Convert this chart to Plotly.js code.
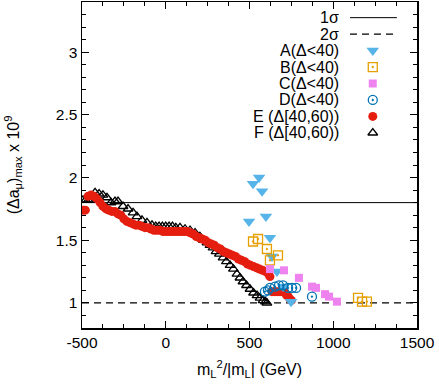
<!DOCTYPE html>
<html>
<head>
<meta charset="utf-8">
<script src="https://cdn.plot.ly/plotly-3.0.1.min.js"></script>
<style>
  html, body { margin: 0; padding: 0; background: #fff; }
  #plot { width: 439px; height: 387px; }
</style>
</head>
<body>
<div id="plot"></div>
<script>
// values
var sigma1 = 1.80;
var sigma2 = 1.00;

var xTickVals = [-500, 0, 500, 1000, 1500];
var xTickText = ['-500', '0', '500', '1000', '1500'];

var aX = [521, 557, 575, 497, 598, 622, 634, 664, 700, 748];
var aY = [1.95, 2.00, 1.89, 1.65, 1.69, 1.52, 1.37, 1.25, 1.13, 1.01];

var bX = [521, 551, 604, 622, 670, 1148, 1172, 1201];
var bY = [1.49, 1.51, 1.43, 1.34, 1.38, 1.04, 1.01, 1.01];

var cX = [622, 706, 795, 873, 897, 951, 975, 1022];
var cY = [1.27, 1.26, 1.20, 1.13, 1.12, 1.07, 1.05, 1.01];

var dX = [592, 610, 622, 652, 676, 700, 730, 754, 778, 873];
var dY = [1.09, 1.10, 1.12, 1.13, 1.14, 1.14, 1.12, 1.12, 1.12, 1.05];

var eX = [-494, -480, -464, -446, -428, -410, -392, -375, -357, -340, -322, -304,
  -286, -268, -250, -232, -214, -196, -178, -160, -142, -124, -106, -88, -70, -52,
  -34, -16, 2, 20, 38, 56, 74, 92, 110, 128, 146, 164, 182, 200, 218, 236, 254,
  272, 290, 308, 326, 344, 362, 380, 398, 416, 434, 452, 470, 488, 506, 524, 542,
  560, 578, 596, 614, 622,
  634, 652, 668, 682, 698, 712, 722, 732, 742, 750];
var eY = [1.74, 1.74, 1.85, 1.86, 1.85, 1.83, 1.80, 1.77, 1.75, 1.74, 1.73, 1.73,
  1.71, 1.70, 1.67, 1.65, 1.64, 1.63, 1.62, 1.62, 1.61, 1.60, 1.60, 1.59, 1.58, 1.58,
  1.58, 1.57, 1.57, 1.57, 1.57, 1.57, 1.57, 1.57, 1.57, 1.57, 1.56, 1.55, 1.53,
  1.52, 1.51, 1.50, 1.48, 1.47, 1.46, 1.44, 1.43, 1.41, 1.40, 1.39, 1.38, 1.37,
  1.35, 1.34, 1.33, 1.31, 1.30, 1.29, 1.28, 1.27, 1.26, 1.25, 1.23, 1.21,
  1.09, 1.09, 1.09, 1.09, 1.09, 1.08, 1.06, 1.05, 1.03, 1.02];

var fX = [-494, -478, -462, -446, -422, -398, -375, -351, -327, -303, -285, -255,
  -225, -195, -172, -142, -112, -82, -60, -40, -20, 0, 20, 40, 60, 85, 115, 145,
  175, 204, 225, 246, 264, 282, 300, 320, 342, 362, 384, 404, 425, 443, 461, 482,
  503, 524, 545, 563, 581, 595, 604];
var fY = [1.82, 1.82, 1.82, 1.82, 1.88, 1.87, 1.86, 1.84, 1.80, 1.81, 1.81, 1.77,
  1.75, 1.72, 1.69, 1.66, 1.64, 1.62, 1.61, 1.61, 1.61, 1.61, 1.61, 1.61, 1.60,
  1.60, 1.59, 1.58, 1.56, 1.53, 1.50, 1.48, 1.46, 1.44, 1.41, 1.39, 1.36, 1.33,
  1.30, 1.27, 1.23, 1.20, 1.17, 1.14, 1.11, 1.08, 1.06, 1.04, 1.02, 1.01, 1.00];

var xRange = [-500, 1500];
var yRange = [0.8, 3.4];

var labels = ['1\u03c3', '2\u03c3', 'A(\u0394<40)', 'B(\u0394<40)', 'C(\u0394<40)',
  'D(\u0394<40)', 'E (\u0394[40,60))', 'F (\u0394[40,60))'];

var FONT = 'Liberation Sans, Arial, Helvetica, sans-serif';

// marker styles per series
var styles = [
  {symbol: 'triangle-down', size: 11, color: '#56B4E9', line: {width: 0}},
  {symbol: 'square-open-dot', size: 9, color: '#E69F00', line: {width: 1.3}},
  {symbol: 'square', size: 8, color: '#EE82EE', line: {width: 0}},
  {symbol: 'circle-open-dot', size: 9, color: '#0072B2', line: {width: 1.3}},
  {symbol: 'circle', size: 9, color: '#E51E10', line: {width: 0}},
  {symbol: 'triangle-up-open', size: 8.5, color: '#000000', line: {width: 1.3}}
];

var series = [[aX, aY], [bX, bY], [cX, cY], [dX, dY], [eX, eY], [fX, fY]];
var order = [5, 4, 0, 1, 2, 3]; // drawing order

var data = [
  {x: xRange, y: [sigma1, sigma1], mode: 'lines', line: {color: '#000', width: 1}, hoverinfo: 'skip'},
  {x: xRange, y: [sigma2, sigma2], mode: 'lines', line: {color: '#000', width: 1.2, dash: '7px,5px'}, hoverinfo: 'skip'}
];
order.forEach(function (i) {
  data.push({x: series[i][0], y: series[i][1], mode: 'markers', type: 'scatter', marker: styles[i]});
});

// key in the top right corner, on an overlay axis spanning the frame
var rowTop = 0.952, rowStep = 0.0505;
data.push({x: [0.80, 0.94], y: [rowTop, rowTop], xaxis: 'x2', yaxis: 'y2', mode: 'lines',
  line: {color: '#000', width: 1}});
data.push({x: [0.80, 0.94], y: [rowTop - rowStep, rowTop - rowStep], xaxis: 'x2', yaxis: 'y2', mode: 'lines',
  line: {color: '#000', width: 1.2, dash: '7px,5px'}});
styles.forEach(function (s, i) {
  data.push({x: [0.868], y: [rowTop - (i + 2) * rowStep], xaxis: 'x2', yaxis: 'y2',
    mode: 'markers', marker: s});
});

var annotations = labels.map(function (t, i) {
  return {text: t, xref: 'paper', yref: 'paper', x: 0.772, y: rowTop - i * rowStep,
    xanchor: 'right', yanchor: 'middle', showarrow: false,
    font: {family: FONT, size: 16, color: '#000'}};
});
// y axis title, placed by hand at the far left
annotations.push({
  text: '(\u0394a<sub>\u03bc</sub>)<sub>max</sub> x 10<sup>9</sup>',
  xref: 'paper', yref: 'paper', x: -0.205, y: 0.5, textangle: -90,
  xanchor: 'center', yanchor: 'middle', showarrow: false,
  font: {family: FONT, size: 16, color: '#000'}
});

var axisCommon = {
  ticks: 'inside', mirror: 'ticks', showline: true, linecolor: '#000', linewidth: 1.5,
  tickcolor: '#000', tickwidth: 1, ticklen: 7, showgrid: false, zeroline: false,
  tickfont: {family: FONT, size: 15.5, color: '#000'}
};

var layout = {
  width: 439, height: 387,
  margin: {l: 82, r: 22, t: 2, b: 59},
  showlegend: false,
  plot_bgcolor: '#fff', paper_bgcolor: '#fff',
  xaxis: Object.assign({}, axisCommon, {
    range: xRange, tickmode: 'array', tickvals: xTickVals, ticktext: xTickText,
    minor: {dtick: 125, tick0: 0, ticklen: 4, tickcolor: '#000', ticks: 'inside'},
    title: {text: 'm<sub>L</sub><sup>2</sup>/|m<sub>L</sub>| (GeV)', standoff: 13,
      font: {family: FONT, size: 16, color: '#000'}}
  }),
  yaxis: Object.assign({}, axisCommon, {
    range: yRange, dtick: 0.5, tick0: 0,
    minor: {dtick: 0.1, ticklen: 4, tickcolor: '#000', ticks: 'inside'}
  }),
  xaxis2: {overlaying: 'x', range: [0, 1], visible: false, fixedrange: true},
  yaxis2: {overlaying: 'y', range: [0, 1], visible: false, fixedrange: true},
  annotations: annotations
};

Plotly.newPlot('plot', data, layout, {staticPlot: true});
</script>
</body>
</html>
